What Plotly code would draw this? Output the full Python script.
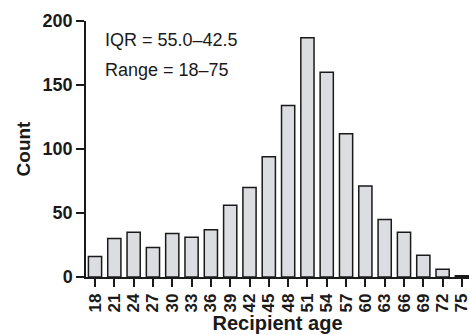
import plotly.graph_objects as go

ages = [18, 21, 24, 27, 30, 33, 36, 39, 42, 45, 48, 51, 54, 57, 60, 63, 66, 69, 72, 75]
counts = [16, 30, 35, 23, 34, 31, 37, 56, 70, 94, 134, 187, 160, 112, 71, 45, 35, 17, 6, 1]
y_ticks = [0, 50, 100, 150, 200]
notes = ["IQR = 55.0\u201342.5", "Range = 18\u201375"]

font = "Liberation Sans, Arial, sans-serif"

fig = go.Figure(go.Bar(
    x=ages, y=counts, width=2.05,
    marker=dict(color="#dcdde0", line=dict(color="#1a1a1a", width=1.5)),
))

fig.update_layout(
    width=470, height=335,
    margin=dict(l=86, r=1, t=21, b=58, autoexpand=False),
    paper_bgcolor="white", plot_bgcolor="white",
    showlegend=False,
    font=dict(family=font, color="#1a1a1a"),
)
fig.update_xaxes(
    range=[16.6, 76.1], tickmode="array", tickvals=ages, ticktext=[str(a) for a in ages],
    tickangle=-90, tickfont=dict(size=17, family=font, weight="bold"),
    ticks="outside", ticklen=8, tickwidth=1.5, tickcolor="#1a1a1a",
    ticklabeloverflow="allow", automargin=False,
    showline=True, linecolor="#1a1a1a", linewidth=1.5, showgrid=False, zeroline=False,
    title=dict(text="<b>Recipient age</b>", font=dict(size=20, family=font), standoff=0),
)
fig.update_yaxes(
    range=[0, 200], tickvals=y_ticks, automargin=False,
    tickfont=dict(size=18, family=font, weight="bold"),
    ticks="outside", ticklen=8, tickwidth=1.5, tickcolor="#1a1a1a",
    showline=True, linecolor="#1a1a1a", linewidth=1.5, showgrid=False, zeroline=False,
    title=dict(text="<b>Count</b>", font=dict(size=19, family=font), standoff=7),
)
for i, t in enumerate(notes):
    fig.add_annotation(
        x=0.045, xref="paper", y=[185, 162][i], yref="y",
        text=t, showarrow=False, xanchor="left", yanchor="middle",
        font=dict(size=18, family=font, color="#1a1a1a"),
    )

fig.write_html(
    "out.html",
    config={"displayModeBar": False},
    post_script="document.body.style.margin='0';document.body.style.overflow='hidden';",
)
